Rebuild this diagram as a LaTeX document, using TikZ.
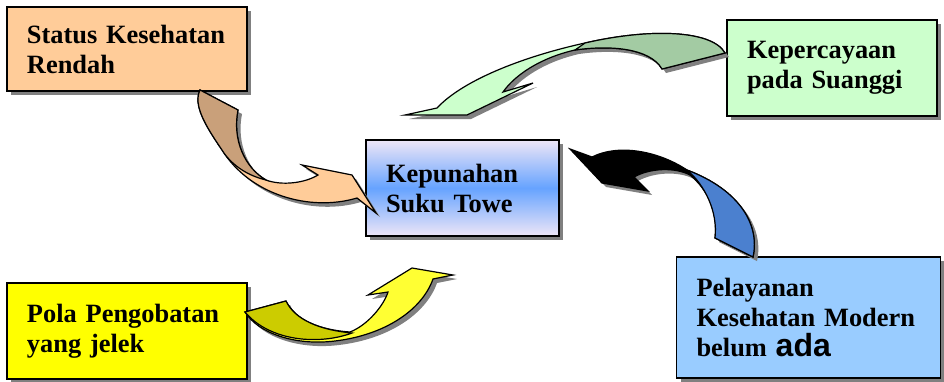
\documentclass[tikz,border=0pt]{standalone}
\usepackage{fontspec}
\setmainfont{Liberation Serif}
\newfontfamily\adafont{Liberation Sans}
\usetikzlibrary{shadows}
\definecolor{peach}{RGB}{255,204,153}
\definecolor{tanback}{RGB}{201,160,122}
\definecolor{mint}{RGB}{204,255,204}
\definecolor{sageback}{RGB}{163,203,163}
\definecolor{lemon}{RGB}{255,255,0}
\definecolor{lemonfront}{RGB}{255,255,51}
\definecolor{oliveback}{RGB}{204,204,0}
\definecolor{skyblue}{RGB}{153,204,255}
\definecolor{steelback}{RGB}{75,128,207}
\definecolor{lavender}{RGB}{238,230,247}
\definecolor{midblue}{RGB}{102,163,255}
\definecolor{shadowgray}{RGB}{128,128,128}

\begin{document}
\begin{tikzpicture}[x=1pt, y=-1pt,
                line join=miter,
                castshadow/.style={drop shadow={shadow xshift=4pt, shadow yshift=-4pt, fill=shadowgray, opacity=1}},
                bigbox/.style={shape=rectangle, draw=black, line width=1.6pt, align=left, inner xsep=20pt, inner ysep=0pt, font=\fontsize{26.4}{30}\selectfont\bfseries, castshadow},
                ribbon/.style={draw=black, line width=1.2pt, castshadow},
                ribbonback/.style={draw=black, line width=1.2pt}
                ]
                \useasboundingbox (0,0) rectangle (944,381);

                %% Boxes
                \node[bigbox, fill=peach, text width=200pt, minimum height=84pt] (status) at (127,49) {Status Kesehatan\\Rendah};
                \node[bigbox, fill=mint, text width=170pt, minimum height=96pt] (belief) at (832,68) {Kepercayaan\\pada Suanggi};
                \node[bigbox, top color=lavender, bottom color=lavender, middle color=midblue, text width=153pt, minimum height=96pt] (towe) at (462.5,188) {Kepunahan\\Suku Towe};
                \node[bigbox, fill=lemon, text width=200pt, minimum height=96pt] (pola) at (127,331) {Pola Pengobatan\\yang jelek};
                \node[bigbox, fill=skyblue, text width=224pt, minimum height=121pt] (service) at (808.5,317.5) {Pelayanan\\Kesehatan Modern\\belum {\adafont\fontsize{32}{34}\selectfont ada}};

                %% Arrows
                % status -> towe
                \draw[ribbon, fill=peach] (200,90) -- (238,110) .. controls (232,140) and (245,168) .. (266,180)
                    .. controls (282,186) and (305,183) .. (318,175) -- (302,165) -- (352,175) -- (376,213) -- (357,198)
                    .. controls (310,212) and (250,195) .. (222,150) .. controls (205,125) and (193,105) .. cycle;
                \draw[ribbonback, fill=tanback] (200,90) -- (238,110) .. controls (232,140) and (245,168) .. (266,180)
                    .. controls (245,175) and (230,163) .. (222,150) .. controls (205,125) and (193,105) .. cycle;

                % belief -> towe
                \draw[ribbon, fill=mint] (725,53) .. controls (712,30) and (650,28) .. (585,43)
                    .. controls (530,55) and (465,78) .. (437,108) -- (405,115) -- (467,115) -- (533,83) -- (503,92)
                    .. controls (515,75) and (540,58) .. (575,50) .. controls (610,45) and (650,48) .. (662,69) -- cycle;
                \draw[ribbonback, fill=sageback] (725,53) .. controls (712,30) and (650,28) .. (585,43) -- (575,50)
                    .. controls (610,45) and (650,48) .. (662,69) -- cycle;

                % pola -> towe
                \draw[ribbon, fill=lemonfront] (245,312) -- (286,301) .. controls (295,320) and (320,330) .. (350,332)
                    .. controls (368,325) and (384,305) .. (388,292) -- (368,295) -- (412,268) -- (453,275) -- (433,279)
                    .. controls (422,310) and (385,335) .. (335,341) .. controls (295,346) and (258,333) .. cycle;
                \draw[ribbonback, fill=oliveback] (245,312) -- (286,301) .. controls (295,320) and (320,330) .. (352,333)
                    .. controls (320,345) and (270,342) .. cycle;

                % service -> towe
                \draw[ribbon, fill=black] (715,238) -- (753,257) .. controls (760,225) and (740,190) .. (687,170)
                    .. controls (660,152) and (620,143) .. (592,157) -- (570,149) -- (602,183) -- (648,191) -- (634,177)
                    .. controls (650,168) and (675,167) .. (690,175) .. controls (708,190) and (718,212) .. cycle;
                \draw[ribbonback, fill=steelback] (715,238) -- (753,257) .. controls (760,225) and (740,190) .. (687,170)
                    .. controls (705,185) and (718,212) .. cycle;
\end{tikzpicture}
\end{document}
